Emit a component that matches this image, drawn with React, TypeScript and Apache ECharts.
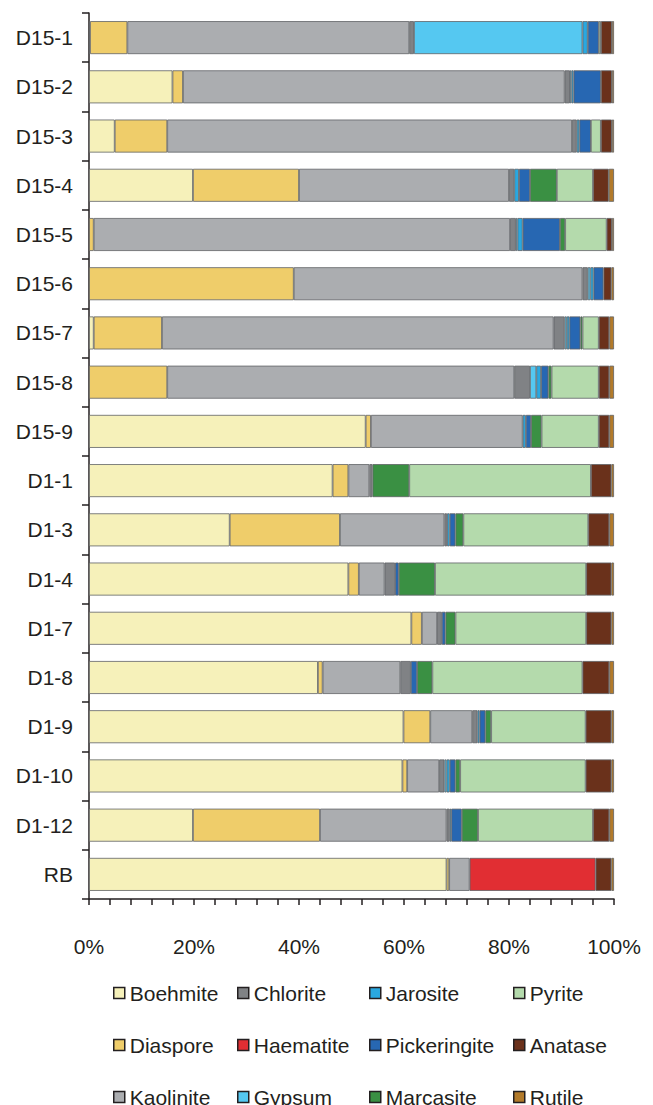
import React, { useEffect, useRef } from "react";
import * as echarts from "echarts";

const categories = ["D15-1", "D15-2", "D15-3", "D15-4", "D15-5", "D15-6", "D15-7", "D15-8", "D15-9", "D1-1", "D1-3", "D1-4", "D1-7", "D1-8", "D1-9", "D1-10", "D1-12", "RB"];

const boehmite = [0.2, 15.9, 4.9, 19.8, 0, 0, 0.9, 0, 52.7, 46.4, 26.8, 49.4, 61.4, 43.6, 59.9, 59.7, 19.8, 68.1];
const diaspore = [7.1, 2.0, 10.0, 20.2, 0.9, 39.0, 13.0, 14.9, 1.0, 3.0, 21.0, 2.0, 2.0, 0.9, 5.1, 0.9, 24.2, 0.5];
const kaolinite = [53.7, 72.7, 77.1, 40.0, 79.3, 55.0, 74.6, 66.1, 28.9, 4.0, 19.9, 4.9, 2.9, 14.8, 8.0, 6.1, 24.1, 3.9];
const chlorite = [0.9, 1.0, 0.9, 1.0, 1.1, 1.0, 2.1, 3.0, 0, 0.6, 0.5, 2.0, 0.9, 2.0, 1.0, 1.0, 0.6, 0];
const haematite = [0, 0, 0, 0, 0, 0, 0, 0, 0, 0, 0, 0, 0, 0, 0, 0, 0, 24.0];
const gypsum = [32.1, 0.3, 0, 0, 0.3, 0.5, 0.4, 1.2, 0, 0, 0, 0, 0, 0, 0, 0.4, 0, 0];
const jarosite = [1.0, 0.4, 0.5, 0.9, 1.0, 0.6, 0.5, 0.9, 0.6, 0, 0.5, 0, 0, 0, 0.4, 0.6, 0.3, 0];
const pickeringite = [2.1, 5.2, 2.2, 2.1, 7.1, 1.9, 2.1, 1.4, 1.0, 0, 1.1, 0.7, 0.7, 1.2, 1.1, 1.1, 2.0, 0];
const marcasite = [0, 0, 0, 5.1, 1.0, 0, 0.4, 0.6, 2.0, 7.0, 1.5, 6.9, 1.9, 2.9, 1.1, 0.9, 3.1, 0];
const pyrite = [0.4, 0, 1.9, 6.9, 7.9, 0, 3.1, 9.0, 10.9, 34.6, 23.8, 28.8, 24.9, 28.6, 18.0, 23.9, 21.9, 0];
const anatase = [2.1, 2.1, 2.1, 3.0, 1.0, 1.5, 2.0, 2.0, 2.0, 3.9, 4.0, 4.8, 4.8, 5.1, 4.9, 4.9, 3.1, 3.0];
const rutile = [0.4, 0.4, 0.4, 1.0, 0.4, 0.5, 0.9, 0.9, 0.9, 0.5, 0.9, 0.5, 0.5, 0.9, 0.5, 0.5, 0.9, 0.5];

const seriesNames = ["Boehmite", "Diaspore", "Kaolinite", "Chlorite", "Haematite", "Gypsum", "Jarosite", "Pickeringite", "Marcasite", "Pyrite", "Anatase", "Rutile"];
const seriesValues = [boehmite, diaspore, kaolinite, chlorite, haematite, gypsum, jarosite, pickeringite, marcasite, pyrite, anatase, rutile];
const seriesColors = ["#F6F1BA", "#EFCD6A", "#ABADB0", "#808285", "#E12E33", "#55C8F1", "#2AA8E0", "#2767B2", "#3A9043", "#B4DAAC", "#6A311B", "#B27A2A"];

const xTicks = [0, 20, 40, 60, 80, 100];

const legendColumns = [
  ["Boehmite", "Diaspore", "Kaolinite"],
  ["Chlorite", "Haematite", "Gypsum"],
  ["Jarosite", "Pickeringite", "Marcasite"],
  ["Pyrite", "Anatase", "Rutile"],
];
const legendLefts = [113, 237, 369, 513];
const legendTops = [982, 1034, 1086];

const FONT = "'Liberation Sans', Arial, Helvetica, sans-serif";
const TEXT = "#231f20";

export default function App() {
  const ref = useRef<HTMLDivElement>(null);
  useEffect(() => {
    if (!ref.current) return;
    const chart = echarts.init(ref.current, undefined, { renderer: "svg" });
    const legends: any[] = [];
    legendColumns.forEach((col, i) => {
      col.forEach((name, j) => {
        legends.push({
          data: [name],
          orient: "horizontal",
          left: legendLefts[i],
          top: legendTops[j],
          padding: 0,
          itemWidth: 11,
          itemHeight: 11,
          icon: "rect",
          selectedMode: false,
          itemStyle: { borderColor: TEXT, borderWidth: 1.5 },
          textStyle: { fontSize: 21, color: TEXT, lineHeight: 22, fontFamily: FONT },
        });
      });
    });
    const option = {
      animation: false,
      backgroundColor: "#ffffff",
      textStyle: { fontFamily: FONT },
      grid: { left: 89, right: 39, top: 13, bottom: 206, containLabel: false },
      xAxis: {
        type: "value",
        min: xTicks[0],
        max: xTicks[xTicks.length - 1],
        interval: 20,
        axisLine: { show: true, lineStyle: { color: TEXT, width: 1.5 } },
        axisTick: { show: true, inside: false, length: 6, lineStyle: { color: TEXT, width: 1.5 } },
        minorTick: { show: true, splitNumber: 5, length: 6, lineStyle: { color: TEXT, width: 1.5 } },
        splitLine: { show: false },
        axisLabel: { formatter: "{value}%", fontSize: 21, color: TEXT, margin: 37, fontFamily: FONT },
      },
      yAxis: {
        type: "category",
        data: categories,
        inverse: true,
        axisLine: { show: true, lineStyle: { color: TEXT, width: 1.5 } },
        axisTick: { show: true, inside: false, length: 7, lineStyle: { color: TEXT, width: 1.5 } },
        axisLabel: { fontSize: 21, color: TEXT, margin: 16, fontFamily: FONT },
        splitLine: { show: false },
      },
      legend: legends,
      series: seriesNames.map((name, i) => ({
        name,
        type: "bar",
        stack: "total",
        barCategoryGap: "33%",
        color: seriesColors[i],
        itemStyle: { color: seriesColors[i], borderColor: "#5f6266", borderWidth: 0.8 },
        data: seriesValues[i].map((v) => (v > 0 ? v : "-")),
      })),
    };
    chart.setOption(option as any);
    return () => chart.dispose();
  }, []);
  return (
    <div
      ref={ref}
      style={{ position: "fixed", left: 0, top: 0, width: 653, height: 1105, background: "#fff" }}
    />
  );
}
